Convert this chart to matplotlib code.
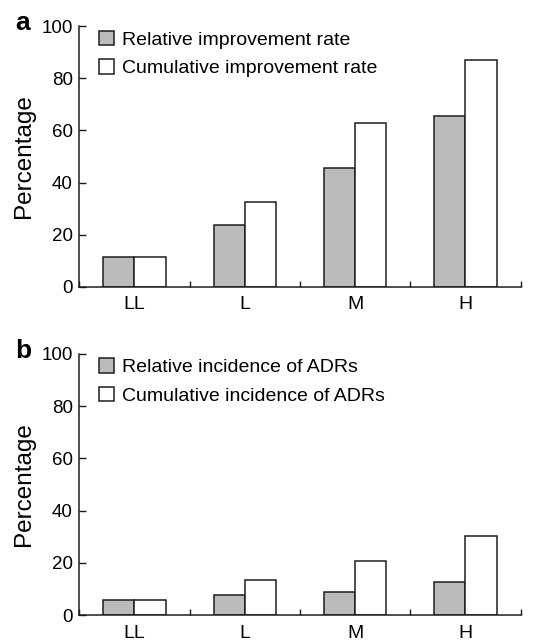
import matplotlib
matplotlib.use("Agg")
import matplotlib.pyplot as plt
import numpy as np
from matplotlib.patches import Patch

plt.rcParams['font.family'] = ['Liberation Sans', 'DejaVu Sans']

categories = ["LL", "L", "M", "H"]
improve_rel = [11.5, 23.7, 45.4, 65.5]
improve_cum = [11.5, 32.5, 63.0, 87.2]
adr_rel = [5.9, 7.8, 8.7, 12.5]
adr_cum = [5.9, 13.3, 20.7, 30.4]
yticks = [0, 20, 40, 60, 80, 100]

panels = [
    ("a", improve_rel, improve_cum, "Relative improvement rate", "Cumulative improvement rate"),
    ("b", adr_rel, adr_cum, "Relative incidence of ADRs", "Cumulative incidence of ADRs"),
]

W, H = 539, 640
fig = plt.figure(figsize=(W / 100, H / 100), dpi=100)
rects = [[0.147, 0.552, 0.819, 0.407], [0.147, 0.039, 0.819, 0.408]]
letter_base = [29.5, 358.5]  # pixel from top
gray = "#bbbbbb"
ec = "#1e1e1e"
w = 0.283

for rect, lb, (letter, rel, cum, lab1, lab2) in zip(rects, letter_base, panels):
    ax = fig.add_axes(rect)
    x = np.arange(len(categories))
    ax.bar(x - w / 2, rel, w, color=gray, edgecolor=ec, linewidth=1.1)
    ax.bar(x + w / 2, cum, w, color="white", edgecolor=ec, linewidth=1.1)
    ax.set_xlim(-0.5, 3.5)
    ax.set_ylim(0, 100)
    ax.set_yticks(yticks)
    ax.set_xticks(x)
    ax.set_xticklabels(categories)
    ax.set_xticks(np.arange(-0.5, 3.6, 1.0), minor=True)
    ax.tick_params(axis='x', which='major', length=0, labelsize=14, pad=7)
    ax.tick_params(axis='x', which='minor', direction='in', length=4, width=1, color=ec)
    ax.tick_params(axis='y', direction='in', length=5, width=1, labelsize=13.5, pad=4.5, color=ec)
    for s in ['top', 'right']:
        ax.spines[s].set_visible(False)
    for s in ['left', 'bottom']:
        ax.spines[s].set_linewidth(1.1)
        ax.spines[s].set_color(ec)
    ax.set_ylabel("Percentage", fontsize=17.5, labelpad=5)
    handles = [Patch(facecolor=gray, edgecolor=ec, linewidth=1.1),
               Patch(facecolor="white", edgecolor=ec, linewidth=1.1)]
    ax.legend(handles, [lab1, lab2], loc="upper left", bbox_to_anchor=(0.035, 0.998),
              frameon=False, fontsize=14, handlelength=0.78, handleheight=0.78,
              handletextpad=0.45, labelspacing=0.53, borderaxespad=0.0, borderpad=0.2)
    fig.text(15 / W, 1 - lb / H, letter, fontsize=19, fontweight='bold',
             ha='left', va='baseline')

fig.savefig("out.png", dpi=100)
